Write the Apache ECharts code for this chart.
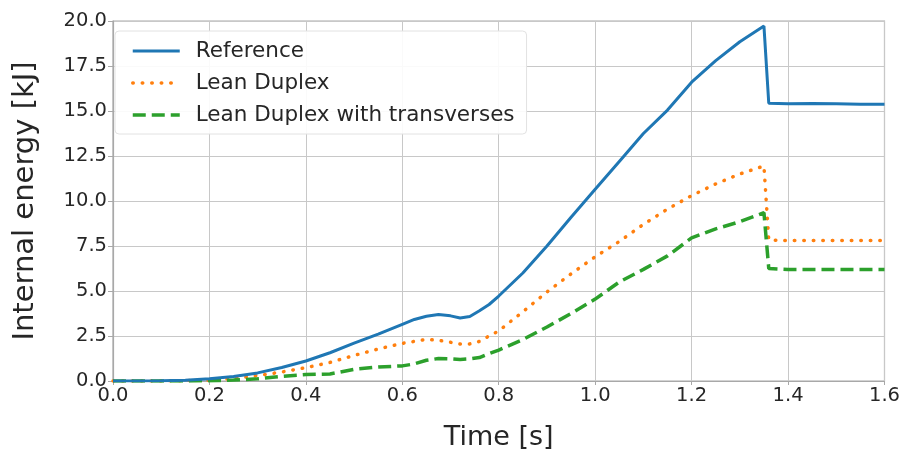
<!DOCTYPE html>
<html>
<head>
<meta charset="utf-8">
<script src="https://cdn.jsdelivr.net/npm/echarts@6/dist/echarts.min.js"></script>
<style>
html,body{margin:0;padding:0;background:#fff;}
#chart{width:903px;height:457px;}
</style>
</head>
<body>
<div id="chart"></div>
<script>
// Data
var time = [0, 0.05, 0.1, 0.15, 0.2, 0.25, 0.3, 0.35, 0.4, 0.45, 0.5, 0.55, 0.6, 0.625, 0.65, 0.675, 0.7, 0.72, 0.74, 0.76, 0.78, 0.8, 0.85, 0.9, 0.95, 1.0, 1.05, 1.1, 1.15, 1.2, 1.25, 1.3, 1.35, 1.36, 1.4, 1.45, 1.5, 1.55, 1.6];
var reference = [0, 0, 0.01, 0.04, 0.12, 0.25, 0.45, 0.75, 1.11, 1.57, 2.1, 2.6, 3.15, 3.42, 3.6, 3.7, 3.62, 3.5, 3.58, 3.9, 4.25, 4.72, 6.0, 7.5, 9.1, 10.65, 12.2, 13.75, 15.05, 16.6, 17.8, 18.85, 19.72, 15.43, 15.4, 15.42, 15.4, 15.38, 15.38];
var leanDuplex = [0, 0, 0, 0.02, 0.05, 0.14, 0.3, 0.5, 0.74, 1.03, 1.42, 1.78, 2.09, 2.2, 2.31, 2.26, 2.15, 2.05, 2.06, 2.2, 2.5, 2.78, 3.85, 4.95, 5.95, 6.9, 7.75, 8.7, 9.55, 10.3, 10.95, 11.5, 11.95, 7.83, 7.8, 7.8, 7.8, 7.8, 7.8];
var leanDuplexTransverses = [0, 0, 0, 0, 0.02, 0.05, 0.12, 0.26, 0.36, 0.39, 0.65, 0.78, 0.84, 0.95, 1.15, 1.25, 1.24, 1.2, 1.23, 1.3, 1.52, 1.72, 2.3, 3.0, 3.75, 4.55, 5.5, 6.2, 6.95, 7.95, 8.45, 8.85, 9.35, 6.25, 6.2, 6.2, 6.2, 6.2, 6.2];
var seriesNames = ['Reference', 'Lean Duplex', 'Lean Duplex with transverses'];
var xTitle = 'Time [s]';
var yTitle = 'Internal energy [kJ]';

function pairs(vals) {
  return time.map(function (t, i) { return [t, vals[i]]; });
}

var chart = echarts.init(document.getElementById('chart'), null, {renderer: 'canvas'});
var font = 'DejaVu Sans';
var option = {
  animation: false,
  backgroundColor: '#ffffff',
  grid: {left: 113, right: 18, top: 21, bottom: 76, show: true, borderColor: '#a8a8a8', borderWidth: 1.2, backgroundColor: 'transparent'},
  legend: {
    orient: 'vertical',
    left: 115,
    top: 31,
    padding: [9, 12, 8, 16],
    itemGap: 10,
    itemWidth: 47,
    itemHeight: 14,
    itemStyle: {opacity: 0},
    backgroundColor: 'rgba(255,255,255,0.9)',
    borderColor: '#e2e2e2',
    borderWidth: 1,
    borderRadius: 4,
    textStyle: {fontFamily: font, fontSize: 21.5, color: '#262626', padding: [0, 0, 0, 11]},
    data: [
      {name: seriesNames[0], lineStyle: {width: 3}},
      {name: seriesNames[1], lineStyle: {width: 3.5}},
      {name: seriesNames[2], lineStyle: {width: 3.5}}
    ]
  },
  xAxis: {
    type: 'value',
    min: 0, max: 1.6, interval: 0.2,
    name: xTitle,
    nameLocation: 'middle',
    nameGap: 43,
    nameTextStyle: {fontFamily: font, fontSize: 27, color: '#262626'},
    axisLine: {show: true, lineStyle: {color: '#a8a8a8', width: 1.2}},
    axisTick: {show: true, length: 4, lineStyle: {color: '#a8a8a8'}},
    axisLabel: {fontFamily: font, fontSize: 19.5, color: '#262626', margin: 5, formatter: function (v) { return v.toFixed(1); }},
    splitLine: {show: true, lineStyle: {color: '#c8c8c8', width: 1}}
  },
  yAxis: {
    type: 'value',
    min: 0, max: 20, interval: 2.5,
    name: yTitle,
    nameLocation: 'middle',
    nameGap: 73,
    nameRotate: 90,
    nameTextStyle: {fontFamily: font, fontSize: 29, color: '#262626'},
    axisLine: {show: true, lineStyle: {color: '#a8a8a8', width: 1.2}},
    axisTick: {show: true, length: 5, lineStyle: {color: '#a8a8a8'}},
    axisLabel: {fontFamily: font, fontSize: 19.5, color: '#262626', margin: 6, formatter: function (v) { return v.toFixed(1); }},
    splitLine: {show: true, lineStyle: {color: '#c8c8c8', width: 1}}
  },
  series: [
    {
      name: seriesNames[0], type: 'line', data: pairs(reference), symbol: 'none',
      lineStyle: {color: '#1f77b4', width: 3}, itemStyle: {color: '#1f77b4'}, z: 3
    },
    {
      name: seriesNames[1], type: 'line', data: pairs(leanDuplex), symbol: 'none',
      lineStyle: {color: '#ff7f0e', width: 3.5, type: [0.5, 9], cap: 'round'}, itemStyle: {color: '#ff7f0e'}, z: 2
    },
    {
      name: seriesNames[2], type: 'line', data: pairs(leanDuplexTransverses), symbol: 'none',
      lineStyle: {color: '#2ca02c', width: 3.5, type: [13, 6]}, itemStyle: {color: '#2ca02c'}, z: 2
    }
  ]
};
chart.setOption(option);
</script>
</body>
</html>
